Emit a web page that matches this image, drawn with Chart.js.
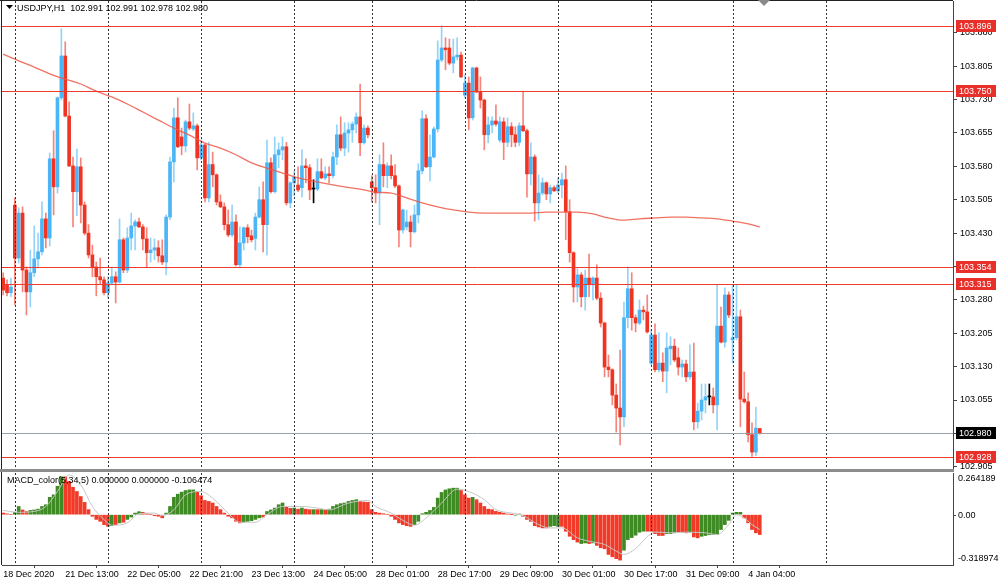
<!DOCTYPE html>
<html>
<head>
<meta charset="utf-8">
<script src="https://cdn.jsdelivr.net/npm/chart.js@4.4.1/dist/chart.umd.min.js"></script>
<style>
    html, body { margin: 0; padding: 0; background: #fff; }
    #wrap { position: relative; width: 1000px; height: 587px; overflow: hidden; }
    #main { position: absolute; left: 0; top: 0; }
    #macd { position: absolute; left: 0; top: 469px; }
</style>
</head>
<body>
<div id="wrap">
    <canvas id="main" width="1000" height="472"></canvas>
    <canvas id="macd" width="1000" height="118"></canvas>
</div>
<script>
const symbolTitle = "USDJPY,H1  102.991 102.991 102.978 102.980";
const macdTitle = "MACD_color(5,34,5) 0.000000 0.000000 -0.106474";

// hourly candles, bar 0 = 18 Dec 21:00
const opens = [
    103.329, 103.314, 103.296, 103.493, 103.374, 103.475, 103.347, 103.298, 103.341, 103.372,
    103.388, 103.462, 103.419, 103.597, 103.534, 103.734, 103.828, 103.693, 103.581, 103.523,
    103.579, 103.493, 103.430, 103.381, 103.354, 103.332, 103.325, 103.296, 103.318, 103.332,
    103.320, 103.415, 103.347, 103.419, 103.446, 103.455, 103.444, 103.417, 103.386, 103.392,
    103.397, 103.379, 103.365, 103.466, 103.590, 103.689, 103.646, 103.626, 103.680, 103.664,
    103.671, 103.599, 103.628, 103.509, 103.584, 103.561, 103.500, 103.489, 103.449, 103.426,
    103.455, 103.359, 103.408, 103.442, 103.424, 103.418, 103.466, 103.505, 103.449, 103.588,
    103.523, 103.606, 103.617, 103.624, 103.498, 103.543, 103.538, 103.532, 103.581, 103.577,
    103.529, 103.529, 103.568, 103.554, 103.563, 103.559, 103.601, 103.651, 103.621, 103.655,
    103.662, 103.675, 103.691, 103.633, 103.666, 103.545, 103.532, 103.520, 103.584, 103.559,
    103.581, 103.559, 103.536, 103.437, 103.444, 103.455, 103.433, 103.471, 103.570, 103.687,
    103.579, 103.601, 103.664, 103.819, 103.846, 103.846, 103.812, 103.826, 103.830, 103.740,
    103.767, 103.689, 103.801, 103.747, 103.729, 103.651, 103.673, 103.682, 103.639, 103.680,
    103.634, 103.669, 103.651, 103.634, 103.671, 103.660, 103.563, 103.601, 103.498, 103.520,
    103.543, 103.518, 103.532, 103.525, 103.538, 103.550, 103.478, 103.386, 103.309, 103.336,
    103.287, 103.329, 103.314, 103.329, 103.284, 103.228, 103.129, 103.123, 103.066, 103.037,
    103.017, 103.240, 103.305, 103.240, 103.228, 103.257, 103.253, 103.138, 103.201, 103.123,
    103.138, 103.120, 103.170, 103.176, 103.150, 103.129, 103.136, 103.107, 103.118, 103.006,
    103.030, 103.055, 103.062, 103.062, 103.044, 103.221, 103.185, 103.291, 103.190, 103.195,
    103.242, 103.057, 103.051, 102.977, 102.938, 102.991
];
const highs = [
    103.341, 103.325, 103.329, 103.509, 103.487, 103.489, 103.354, 103.392, 103.446, 103.430,
    103.500, 103.475, 103.610, 103.660, 103.736, 103.889, 103.860, 103.725, 103.601, 103.619,
    103.599, 103.500, 103.449, 103.403, 103.365, 103.374, 103.332, 103.332, 103.354, 103.343,
    103.462, 103.419, 103.442, 103.475, 103.460, 103.464, 103.449, 103.442, 103.419, 103.417,
    103.413, 103.415, 103.471, 103.601, 103.711, 103.734, 103.666, 103.684, 103.720, 103.700,
    103.675, 103.639, 103.630, 103.634, 103.612, 103.563, 103.516, 103.498, 103.482, 103.493,
    103.471, 103.444, 103.444, 103.449, 103.437, 103.475, 103.534, 103.545, 103.639, 103.599,
    103.646, 103.633, 103.646, 103.634, 103.545, 103.568, 103.579, 103.617, 103.597, 103.584,
    103.550, 103.597, 103.597, 103.579, 103.579, 103.612, 103.673, 103.691, 103.678, 103.678,
    103.680, 103.700, 103.765, 103.673, 103.671, 103.559, 103.561, 103.606, 103.633, 103.588,
    103.606, 103.584, 103.538, 103.484, 103.482, 103.469, 103.493, 103.586, 103.705, 103.696,
    103.651, 103.669, 103.862, 103.896, 103.869, 103.866, 103.866, 103.869, 103.837, 103.785,
    103.781, 103.803, 103.803, 103.781, 103.731, 103.691, 103.691, 103.718, 103.691, 103.689,
    103.689, 103.678, 103.669, 103.678, 103.749, 103.664, 103.633, 103.606, 103.561, 103.554,
    103.545, 103.538, 103.536, 103.554, 103.565, 103.581, 103.505, 103.388, 103.350, 103.341,
    103.347, 103.383, 103.332, 103.359, 103.296, 103.230, 103.156, 103.125, 103.091, 103.167,
    103.275, 103.354, 103.341, 103.246, 103.280, 103.266, 103.291, 103.213, 103.226, 103.206,
    103.161, 103.206, 103.197, 103.192, 103.172, 103.145, 103.145, 103.179, 103.183, 103.048,
    103.091, 103.091, 103.091, 103.082, 103.314, 103.264, 103.307, 103.298, 103.314, 103.314,
    103.257, 103.118, 103.071, 103.004, 103.039, 102.991
];
const lows = [
    103.291, 103.289, 103.287, 103.269, 103.363, 103.298, 103.246, 103.264, 103.332, 103.352,
    103.381, 103.397, 103.401, 103.471, 103.520, 103.729, 103.691, 103.579, 103.444, 103.469,
    103.453, 103.426, 103.374, 103.332, 103.289, 103.314, 103.291, 103.284, 103.314, 103.273,
    103.318, 103.341, 103.341, 103.392, 103.392, 103.442, 103.392, 103.352, 103.365, 103.370,
    103.365, 103.359, 103.336, 103.460, 103.545, 103.622, 103.606, 103.612, 103.662, 103.660,
    103.572, 103.595, 103.500, 103.500, 103.534, 103.493, 103.487, 103.437, 103.422, 103.422,
    103.356, 103.352, 103.392, 103.408, 103.410, 103.392, 103.464, 103.388, 103.381, 103.520,
    103.520, 103.577, 103.595, 103.493, 103.487, 103.514, 103.523, 103.511, 103.543, 103.505,
    103.498, 103.525, 103.552, 103.550, 103.543, 103.554, 103.584, 103.615, 103.604, 103.612,
    103.634, 103.655, 103.604, 103.630, 103.644, 103.500, 103.498, 103.449, 103.534, 103.532,
    103.552, 103.532, 103.399, 103.430, 103.437, 103.399, 103.430, 103.453, 103.563, 103.577,
    103.547, 103.599, 103.657, 103.815, 103.797, 103.808, 103.790, 103.819, 103.779, 103.734,
    103.662, 103.684, 103.745, 103.711, 103.617, 103.633, 103.655, 103.671, 103.634, 103.595,
    103.624, 103.624, 103.624, 103.626, 103.658, 103.511, 103.538, 103.457, 103.460, 103.516,
    103.505, 103.498, 103.523, 103.520, 103.509, 103.415, 103.365, 103.275, 103.275, 103.264,
    103.257, 103.287, 103.280, 103.280, 103.219, 103.107, 103.107, 103.044, 102.983, 102.954,
    102.995, 103.217, 103.212, 103.208, 103.224, 103.235, 103.205, 103.134, 103.118, 103.118,
    103.096, 103.071, 103.134, 103.141, 103.111, 103.107, 103.096, 103.102, 102.988, 102.992,
    103.010, 103.026, 103.044, 103.026, 102.988, 103.183, 103.174, 103.240, 103.138, 103.190,
    102.995, 103.048, 102.961, 102.928, 102.930, 102.978
];
const closes = [
    103.302, 103.296, 103.309, 103.374, 103.475, 103.347, 103.298, 103.341, 103.372, 103.388,
    103.462, 103.419, 103.597, 103.534, 103.734, 103.828, 103.693, 103.581, 103.523, 103.579,
    103.493, 103.430, 103.381, 103.354, 103.332, 103.325, 103.296, 103.318, 103.332, 103.320,
    103.415, 103.347, 103.419, 103.446, 103.455, 103.444, 103.417, 103.386, 103.392, 103.397,
    103.379, 103.365, 103.466, 103.590, 103.689, 103.624, 103.626, 103.680, 103.666, 103.671,
    103.599, 103.628, 103.509, 103.584, 103.561, 103.500, 103.489, 103.449, 103.426, 103.455,
    103.359, 103.408, 103.442, 103.422, 103.415, 103.466, 103.505, 103.449, 103.588, 103.523,
    103.606, 103.617, 103.624, 103.498, 103.543, 103.556, 103.527, 103.581, 103.577, 103.527,
    103.529, 103.568, 103.554, 103.563, 103.559, 103.601, 103.651, 103.621, 103.655, 103.662,
    103.675, 103.691, 103.633, 103.666, 103.651, 103.532, 103.520, 103.584, 103.559, 103.581,
    103.559, 103.536, 103.437, 103.482, 103.455, 103.433, 103.471, 103.570, 103.687, 103.579,
    103.601, 103.664, 103.819, 103.846, 103.842, 103.812, 103.826, 103.830, 103.781, 103.767,
    103.689, 103.801, 103.747, 103.729, 103.651, 103.673, 103.682, 103.675, 103.680, 103.634,
    103.669, 103.651, 103.634, 103.671, 103.660, 103.563, 103.601, 103.498, 103.520, 103.543,
    103.518, 103.532, 103.525, 103.538, 103.550, 103.478, 103.386, 103.309, 103.336, 103.287,
    103.329, 103.314, 103.329, 103.284, 103.228, 103.129, 103.123, 103.066, 103.037, 103.017,
    103.240, 103.305, 103.240, 103.228, 103.257, 103.253, 103.208, 103.201, 103.123, 103.138,
    103.120, 103.172, 103.176, 103.145, 103.129, 103.136, 103.107, 103.118, 103.006, 103.030,
    103.055, 103.062, 103.062, 103.044, 103.221, 103.185, 103.291, 103.246, 103.195, 103.242,
    103.057, 103.051, 102.977, 102.938, 102.992, 102.980
];

// moving average
const maBars = [0, 4, 8, 12, 16, 20, 24, 28, 32, 36, 40, 44, 48, 52, 56, 60, 64, 68, 72, 76,
    80, 84, 88, 92, 96, 100, 104, 108, 112, 116, 120, 124, 128, 132, 136, 140, 144, 148, 152, 156,
    160, 164, 168, 172, 176, 180, 184, 188, 192, 195];
const maValues = [103.832, 103.817, 103.803, 103.788, 103.776, 103.765, 103.749, 103.736, 103.720, 103.702,
    103.684, 103.666, 103.650, 103.632, 103.621, 103.606, 103.588, 103.576, 103.565, 103.554,
    103.547, 103.540, 103.534, 103.529, 103.522, 103.520, 103.509, 103.498, 103.489, 103.482,
    103.477, 103.475, 103.475, 103.475, 103.475, 103.477, 103.477, 103.477, 103.473, 103.464,
    103.459, 103.462, 103.464, 103.466, 103.466, 103.464, 103.462, 103.457, 103.451, 103.444];

const levelLines = [103.896, 103.750, 103.354, 103.315, 102.928];
const bidPrice = 102.980;
const priceTicks = [103.880, 103.805, 103.730, 103.655, 103.580, 103.505, 103.430,
    103.355, 103.280, 103.205, 103.130, 103.055, 102.980, 102.905];

// MACD histogram, one value per candle; g = rising bar, r = falling bar
const histValues = [
    0.010, 0.005, 0.000, 0.015, 0.052, 0.030, 0.020, 0.027, 0.030, 0.035,
    0.052, 0.063, 0.110, 0.126, 0.180, 0.240, 0.240, 0.210, 0.174, 0.147,
    0.115, 0.078, 0.032, -0.010, -0.030, -0.042, -0.063, -0.074, -0.070, -0.063,
    -0.052, -0.048, -0.030, -0.015, 0.010, 0.019, 0.015, 0.006, 0.000, -0.006,
    -0.010, -0.020, 0.010, 0.052, 0.110, 0.130, 0.143, 0.153, 0.157, 0.157,
    0.147, 0.120, 0.090, 0.084, 0.074, 0.052, 0.032, 0.010, -0.010, -0.020,
    -0.042, -0.052, -0.048, -0.042, -0.038, -0.030, -0.020, -0.015, 0.020, 0.030,
    0.042, 0.063, 0.074, 0.048, 0.040, 0.042, 0.035, 0.042, 0.035, 0.032,
    0.032, 0.032, 0.032, 0.030, 0.035, 0.052, 0.063, 0.070, 0.074, 0.084,
    0.090, 0.095, 0.084, 0.080, 0.078, 0.032, 0.015, 0.010, 0.006, 0.000,
    -0.010, -0.030, -0.052, -0.063, -0.070, -0.074, -0.063, -0.042, 0.006, 0.015,
    0.027, 0.046, 0.105, 0.141, 0.157, 0.164, 0.168, 0.168, 0.153, 0.126,
    0.105, 0.110, 0.095, 0.074, 0.052, 0.035, 0.032, 0.021, 0.015, 0.010,
    0.004, 0.001, -0.003, 0.004, -0.010, -0.030, -0.042, -0.070, -0.078, -0.084,
    -0.084, -0.074, -0.070, -0.074, -0.074, -0.105, -0.137, -0.158, -0.174, -0.183,
    -0.179, -0.183, -0.179, -0.195, -0.210, -0.216, -0.252, -0.267, -0.279, -0.288,
    -0.225, -0.158, -0.145, -0.130, -0.111, -0.105, -0.105, -0.105, -0.120, -0.132,
    -0.132, -0.120, -0.120, -0.115, -0.111, -0.111, -0.115, -0.111, -0.141, -0.147,
    -0.137, -0.132, -0.126, -0.126, -0.126, -0.094, -0.063, -0.036, 0.010, 0.015,
    0.015, -0.021, -0.052, -0.094, -0.115, -0.126
];
const histColors = ("rrrggrrggg ggggggrrrr rrrrrrrrgr grggggrrrr rrgggggggg rrrrrrrrrr rrgggggrgg " +
    "gggrrgrgrr grgrgggggg ggrrrrrrrr rrrrrrgggg ggggggggrr rgrrrrrrrr rrggrrrrrr rgggrrrrrg " +
    "grgrrrrrrr ggggggrrrr rgggrrrgrr gggggggggg grrrrr").replace(/ /g, "").split("");

const signalBars = [0, 4, 8, 11, 14, 17, 20, 23, 26, 28, 32, 35, 39, 41, 44, 47, 51, 54, 58, 61,
    65, 68, 72, 77, 81, 84, 89, 94, 96, 100, 103, 106, 109, 113, 117, 120, 124, 127, 131, 134,
    138, 141, 144, 148, 151, 155, 158, 160, 163, 166, 168, 172, 176, 181, 184, 187, 189, 191, 193, 195];
const signalValues = [0.027, 0.015, 0.021, 0.052, 0.147, 0.252, 0.190, 0.052, -0.031, -0.067,
    -0.052, 0.006, 0.010, -0.006, 0.031, 0.126, 0.147, 0.105, 0.010, -0.048,
    -0.048, 0.000, 0.052, 0.052, 0.042, 0.031, 0.074, 0.090, 0.052, 0.010,
    -0.036, -0.067, -0.021, 0.074, 0.162, 0.147, 0.095, 0.032, 0.010, -0.006,
    -0.063, -0.084, -0.084, -0.147, -0.168, -0.189, -0.231, -0.252, -0.215, -0.140,
    -0.110, -0.115, -0.111, -0.115, -0.126, -0.063, 0.000, -0.021, -0.063, -0.094];

const daySeparators = [3, 27, 51, 75, 95, 119, 143, 167, 188, 212];
const timeTickBars = [0, 16, 32, 48, 64, 80, 96, 112, 128, 144, 160, 176, 192];
const timeTickLabels = ["18 Dec 2020", "21 Dec 13:00", "22 Dec 05:00", "22 Dec 21:00", "23 Dec 13:00",
    "24 Dec 05:00", "28 Dec 01:00", "28 Dec 17:00", "29 Dec 09:00", "30 Dec 01:00",
    "30 Dec 17:00", "31 Dec 09:00", "4 Jan 04:00"];

const xMin = -0.3, xMax = 244.8;
const priceMin = 102.900, priceMax = 103.9515;
const macdMin = -0.318974, macdMax = 0.264189;

const BULL = "#4cb5f5", BEAR = "#ef3423";
const BULL_WICK = "rgba(76,181,245,0.6)", BEAR_WICK = "rgba(239,52,35,0.6)";
const LEVEL = "#ef3b2c", MACD_UP = "#3d8b22", MACD_DOWN = "#f23a28";
const FONT = '"Liberation Sans", Arial, sans-serif';

Chart.defaults.font.family = FONT;
Chart.defaults.font.size = 9;
Chart.defaults.color = "#000";

const bodyColor = (i) => closes[i] > opens[i] ? BULL : closes[i] < opens[i] ? BEAR : "#000";
const wickColor = (i) => closes[i] > opens[i] ? BULL_WICK : closes[i] < opens[i] ? BEAR_WICK : "#000";

// no extra room for the end labels, the plot must fill the panel
const noPadding = (s) => {
    s.paddingTop = 0;
    s.paddingBottom = 0;
    s.paddingLeft = 0;
    s.paddingRight = 0;
};

const daySeparatorPlugin = {
    id: "daySeparators",
    afterDatasetsDraw(chart) {
        const {ctx, chartArea, scales: {x}} = chart;
        ctx.save();
        ctx.strokeStyle = "#333";
        ctx.lineWidth = 1;
        ctx.setLineDash([2, 2]);
        daySeparators.forEach((bar) => {
            const px = Math.round(x.getPixelForValue(bar)) + 0.5;
            ctx.beginPath();
            ctx.moveTo(px, chartArea.top);
            ctx.lineTo(px, chartArea.bottom);
            ctx.stroke();
        });
        ctx.restore();
    }
};

const mainOverlay = {
    id: "mainOverlay",
    afterDraw(chart) {
        const {ctx, chartArea: a, scales: {x, y}} = chart;
        ctx.save();
        ctx.lineWidth = 1;

        levelLines.forEach((v) => {
            const py = Math.round(y.getPixelForValue(v)) + 0.5;
            ctx.strokeStyle = LEVEL;
            ctx.beginPath();
            ctx.moveTo(a.left, py);
            ctx.lineTo(a.right, py);
            ctx.stroke();
        });
        const bidY = Math.round(y.getPixelForValue(bidPrice)) + 0.5;
        ctx.strokeStyle = "#98a2ab";
        ctx.beginPath();
        ctx.moveTo(a.left, bidY);
        ctx.lineTo(a.right, bidY);
        ctx.stroke();

        // frame
        ctx.strokeStyle = "#222";
        ctx.beginPath();
        ctx.moveTo(0, 0.5);
        ctx.lineTo(a.right, 0.5);
        ctx.moveTo(1.5, 0);
        ctx.lineTo(1.5, a.bottom);
        ctx.stroke();

        // price tags on the axis
        ctx.font = "9px " + FONT;
        ctx.textAlign = "left";
        ctx.textBaseline = "middle";
        const tag = (v, fill) => {
            const py = Math.round(y.getPixelForValue(v));
            ctx.fillStyle = fill;
            ctx.fillRect(a.right + 3, py - 6, 40, 12);
            ctx.fillStyle = "#fff";
            ctx.fillText(v.toFixed(3), a.right + 6, py + 0.5);
        };
        levelLines.forEach((v) => tag(v, "#e8302a"));
        tag(bidPrice, "#000");

        // title
        ctx.fillStyle = "#000";
        ctx.beginPath();
        ctx.moveTo(6, 5);
        ctx.lineTo(13, 5);
        ctx.lineTo(9.5, 9);
        ctx.closePath();
        ctx.fill();
        ctx.fillText(symbolTitle, 17, 8.5);

        // chart shift marker
        const sx = Math.round(x.getPixelForValue(196));
        ctx.fillStyle = "#8a8a8a";
        ctx.beginPath();
        ctx.moveTo(sx - 6, 0);
        ctx.lineTo(sx + 6, 0);
        ctx.lineTo(sx, 6);
        ctx.closePath();
        ctx.fill();
        ctx.restore();
    }
};

const macdOverlay = {
    id: "macdOverlay",
    afterDraw(chart) {
        const {ctx, chartArea: a, scales: {y}} = chart;
        ctx.save();
        ctx.fillStyle = "#8c8c8c";
        ctx.fillRect(0, 0, a.right + 1, 3);
        ctx.strokeStyle = "#222";
        ctx.lineWidth = 1;
        ctx.beginPath();
        ctx.moveTo(1.5, 3);
        ctx.lineTo(1.5, a.bottom);
        ctx.stroke();

        ctx.font = "9px " + FONT;
        ctx.fillStyle = "#000";
        ctx.textAlign = "left";
        ctx.textBaseline = "middle";
        const zeroY = Math.round(y.getPixelForValue(0)) + 0.5;
        ctx.strokeStyle = "#444";
        ctx.beginPath();
        ctx.moveTo(a.right, zeroY);
        ctx.lineTo(a.right + 3, zeroY);
        ctx.stroke();
        ctx.fillText(macdMax.toFixed(6), a.right + 5, a.top + 6);
        ctx.fillText("0.00", a.right + 5, zeroY);
        ctx.fillText(macdMin.toFixed(6), a.right + 5, a.bottom - 6);

        ctx.fillText(macdTitle, 7, a.top + 8);
        ctx.restore();
    }
};

new Chart(document.getElementById("main"), {
    type: "bar",
    data: {
        datasets: [
            {
                type: "line",
                data: maBars.map((b, k) => ({x: b, y: maValues[k]})),
                borderColor: "rgba(239,88,72,0.85)",
                borderWidth: 1.3,
                pointRadius: 0,
                cubicInterpolationMode: "monotone",
                order: 0
            },
            {
                type: "bar",
                data: closes.map((c, i) => ({x: i, y: [opens[i], c]})),
                backgroundColor: closes.map((c, i) => bodyColor(i)),
                barThickness: 3,
                minBarLength: 1,
                grouped: false,
                order: 1
            },
            {
                type: "bar",
                data: closes.map((c, i) => ({x: i, y: [lows[i], highs[i]]})),
                backgroundColor: closes.map((c, i) => wickColor(i)),
                barThickness: 1,
                minBarLength: 1,
                grouped: false,
                order: 2
            }
        ]
    },
    options: {
        responsive: false,
        maintainAspectRatio: false,
        animation: false,
        devicePixelRatio: 1,
        events: [],
        layout: {padding: {left: 2, top: 1, right: 0, bottom: 3}},
        plugins: {legend: {display: false}, tooltip: {enabled: false}},
        scales: {
            x: {type: "linear", display: false, min: xMin, max: xMax, offset: false, bounds: "data"},
            y: {
                type: "linear",
                position: "right",
                min: priceMin,
                max: priceMax,
                beginAtZero: false,
                afterFit: (s) => { s.width = 47; noPadding(s); },
                afterBuildTicks: (s) => { s.ticks = priceTicks.map((v) => ({value: v})); },
                ticks: {autoSkip: false, padding: 3, color: "#000", callback: (v) => Number(v).toFixed(3)},
                grid: {drawOnChartArea: false, drawTicks: true, tickLength: 4, color: "#444"},
                border: {display: true, color: "#444"}
            }
        }
    },
    plugins: [daySeparatorPlugin, mainOverlay]
});

new Chart(document.getElementById("macd"), {
    type: "bar",
    data: {
        datasets: [
            {
                type: "line",
                data: signalBars.map((b, k) => ({x: b, y: signalValues[k]})),
                borderColor: "#c6c6c6",
                borderWidth: 1,
                pointRadius: 0,
                cubicInterpolationMode: "monotone",
                order: 0
            },
            {
                type: "bar",
                data: histValues.map((v, i) => ({x: i, y: v})),
                backgroundColor: histColors.map((c) => c === "g" ? MACD_UP : MACD_DOWN),
                barThickness: 3,
                grouped: false,
                order: 1
            }
        ]
    },
    options: {
        responsive: false,
        maintainAspectRatio: false,
        animation: false,
        devicePixelRatio: 1,
        events: [],
        layout: {padding: {left: 2, top: 4, right: 0, bottom: 0}},
        plugins: {legend: {display: false}, tooltip: {enabled: false}},
        scales: {
            x: {
                type: "linear",
                min: xMin,
                max: xMax,
                offset: false,
                bounds: "data",
                afterFit: (s) => { s.height = 22; noPadding(s); },
                afterBuildTicks: (s) => { s.ticks = timeTickBars.map((v) => ({value: v})); },
                ticks: {
                    autoSkip: false, maxRotation: 0, minRotation: 0, align: "start", padding: 1, color: "#000",
                    callback: (v, i) => timeTickLabels[i]
                },
                grid: {drawOnChartArea: false, drawTicks: true, tickLength: 3, color: "#444"},
                border: {display: true, color: "#444"}
            },
            y: {
                type: "linear",
                position: "right",
                min: macdMin,
                max: macdMax,
                beginAtZero: false,
                afterFit: (s) => { s.width = 47; noPadding(s); },
                ticks: {display: false},
                grid: {drawOnChartArea: false, drawTicks: false},
                border: {display: true, color: "#444"}
            }
        }
    },
    plugins: [daySeparatorPlugin, macdOverlay]
});
</script>
</body>
</html>
